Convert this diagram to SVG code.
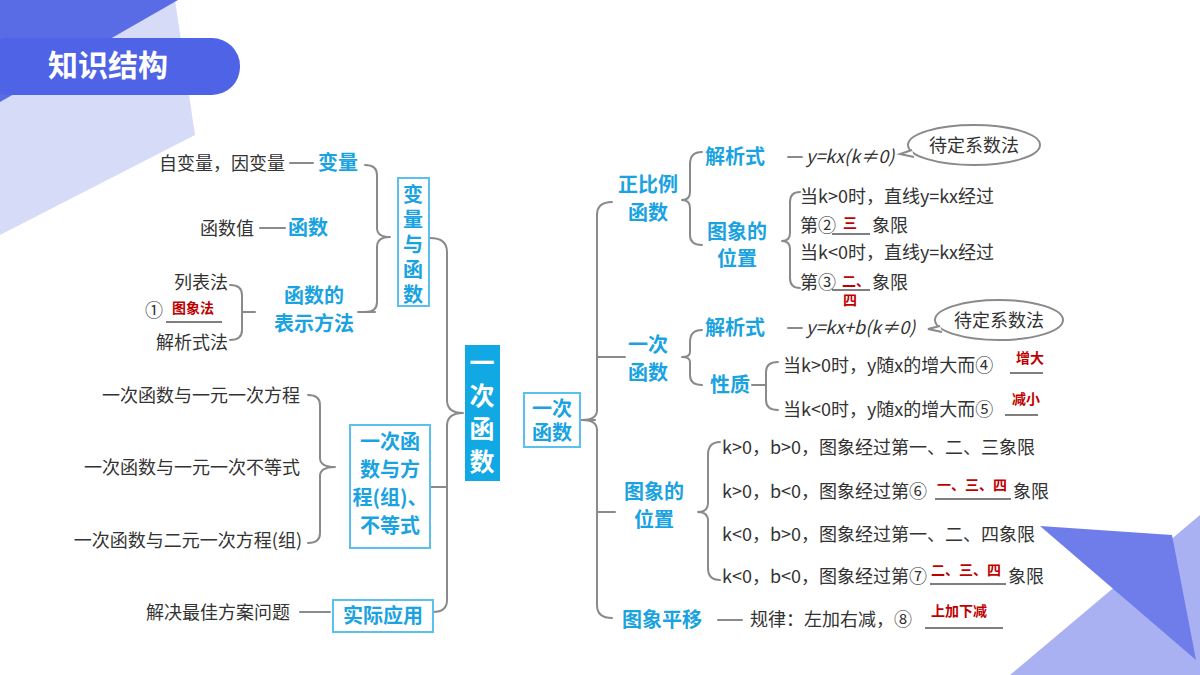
<svg xmlns="http://www.w3.org/2000/svg" width="1200" height="675" viewBox="0 0 1200 675">
<style>
text{font-family:"Noto Sans CJK SC","Noto Sans",sans-serif}
.t{font-size:18px;fill:#333}
.c{font-size:20px;fill:#1aa3e0;font-weight:bold}
.r{font-size:14px;fill:#c00000;font-weight:bold}
.m{font-size:25px;font-weight:bold;fill:#fff;text-anchor:middle}
.ln{fill:none;stroke:#8a8a8a;stroke-width:2;stroke-linecap:round;stroke-linejoin:round}
.ul{stroke:#555;stroke-width:1.3}
.bx{fill:#fff;stroke:#5bc0ee;stroke-width:2}
</style>
<rect width="1200" height="675" fill="#fff"/>
<polygon points="0,100 175,0 195,135 0,235" fill="#d6dbf8"/>
<polygon points="0,0 178,0 0,102" fill="#5a6be6"/>
<rect x="-20" y="38" width="260" height="57" rx="28" fill="#4f63e6"/>
<text x="48" y="76" font-size="30" font-weight="bold" fill="#fff">知识结构</text>
<polygon points="1010,675 1200,515 1200,675" fill="#a9b1f3"/>
<polygon points="1040,526 1172,535 1196,660" fill="#6e7de9"/>

<g id="connectors">
<path class="ln" d="M290,163 H313 M260,228 H285 M358,312 H375"/>
<path class="ln" d="M365,165 Q377,165 377,175 V228 Q377,237 390,237 Q377,237 377,247 V302 Q377,312 365,312"/>
<path class="ln" d="M230,285 Q242,285 242,295 V312 L255,312 L242,312 V330 Q242,340 230,340"/>
<path class="ln" d="M430,238 Q447,238 447,252 V400 Q447,413 463,413 Q447,413 447,426 V600 Q447,612 433,612 M430,487 H447"/>
<path class="ln" d="M308,395 Q320,395 320,405 V458 Q320,467 335,467 Q320,467 320,476 V533 Q320,543 308,543 M300,612 H330"/>
<path class="ln" d="M580,420 H595 M612,202 Q597,202 597,215 V410 Q597,420 582,420 Q597,420 597,430 V605 Q597,618 612,618 M597,357 H625 M597,512 H615"/>
<path class="ln" d="M702,152 Q690,152 690,164 V192 Q690,200 682,200 Q690,200 690,208 V235 Q690,245 702,245"/>
<path class="ln" d="M788,157 H802 M788,328 H802 M718,620 H742"/>
<path class="ln" d="M800,192 Q790,192 790,202 V233 Q790,241 782,241 Q790,241 790,249 V278 Q790,288 800,288"/>
<path class="ln" d="M702,330 Q690,330 690,342 V352 Q690,357 682,357 Q690,357 690,362 V375 Q690,385 702,385"/>
<path class="ln" d="M778,362 Q766,362 766,372 V385 L752,385 L766,385 V400 Q766,410 778,410"/>
<path class="ln" d="M720,442 Q708,442 708,455 V503 Q708,512 698,512 Q708,512 708,521 V568 Q708,580 720,580"/>
<ellipse class="ln" cx="974" cy="145" rx="66" ry="20"/>
<path d="M912,150 L900,154 L914,157" fill="#fff" stroke="#8a8a8a" stroke-width="2"/>
<ellipse class="ln" cx="999" cy="320" rx="64" ry="20"/>
<path d="M940,326 L928,329 L942,332" fill="#fff" stroke="#8a8a8a" stroke-width="2"/>
</g>

<g id="main"><rect x="465" y="345" width="35" height="136" fill="#12a8e4"/>
<text class="m" x="482" y="372">一</text>
<text class="m" x="482" y="405">次</text>
<text class="m" x="482" y="438">函</text>
<text class="m" x="482" y="471">数</text></g>
<g id="main2"><rect class="bx" x="524" y="393" width="56" height="54"/>
<text class="c" x="552" y="416" text-anchor="middle">一次</text><text class="c" x="552" y="440" text-anchor="middle">函数</text></g>

<g id="bl1"><rect class="bx" x="398" y="178" width="31" height="128"/>
<text class="c" x="413" y="202" text-anchor="middle">变</text><text class="c" x="413" y="227" text-anchor="middle">量</text><text class="c" x="413" y="252" text-anchor="middle">与</text><text class="c" x="413" y="277" text-anchor="middle">函</text><text class="c" x="413" y="302" text-anchor="middle">数</text></g>
<g id="bl1a"><text class="t" x="285" y="170" text-anchor="end">自变量，因变量</text><text class="c" x="318" y="170">变量</text></g>
<g id="bl1b"><text class="t" x="254" y="235" text-anchor="end">函数值</text><text class="c" x="288" y="235">函数</text></g>
<g id="bl1c"><text class="c" x="314" y="303" text-anchor="middle">函数的</text><text class="c" x="314" y="331" text-anchor="middle">表示方法</text>
<text class="t" x="228" y="289" text-anchor="end">列表法</text>
<text class="t" x="145" y="317">①</text><text class="r" x="172" y="313">图象法</text><line class="ul" x1="166" y1="322" x2="222" y2="322"/>
<text class="t" x="228" y="349" text-anchor="end">解析式法</text></g>

<g id="bl2"><rect class="bx" x="350" y="425" width="80" height="123"/>
<text class="c" x="390" y="449" text-anchor="middle">一次函</text><text class="c" x="390" y="477" text-anchor="middle">数与方</text><text class="c" x="390" y="505" text-anchor="middle">程(组)、</text><text class="c" x="390" y="533" text-anchor="middle">不等式</text>
<text class="t" x="300" y="402" text-anchor="end">一次函数与一元一次方程</text>
<text class="t" x="300" y="474" text-anchor="end">一次函数与一元一次不等式</text>
<text class="t" x="302" y="547" text-anchor="end">一次函数与二元一次方程(组)</text></g>
<g id="bl3"><rect class="bx" x="333" y="600" width="100" height="32"/>
<text class="c" x="383" y="623" text-anchor="middle">实际应用</text>
<text class="t" x="290" y="619" text-anchor="end">解决最佳方案问题</text></g>

<g id="r1"><text class="c" x="648" y="192" text-anchor="middle">正比例</text><text class="c" x="648" y="220" text-anchor="middle">函数</text>
<text class="c" x="705" y="164">解析式</text><text class="t" x="806" y="163" font-style="italic" font-size="15">y=kx(k≠0)</text>
<text class="t" x="974" y="152" text-anchor="middle">待定系数法</text>
<text class="c" x="737" y="239" text-anchor="middle">图象的</text><text class="c" x="737" y="266" text-anchor="middle">位置</text>
<text class="t" x="800" y="203">当k&gt;0时，直线y=kx经过</text>
<text class="t" x="800" y="232">第②</text><text class="r" x="843" y="228">三</text><line class="ul" x1="832" y1="234" x2="870" y2="234"/><text class="t" x="872" y="232">象限</text>
<text class="t" x="800" y="259">当k&lt;0时，直线y=kx经过</text>
<text class="t" x="800" y="289">第③</text><text class="r" x="842" y="286">二、</text><line class="ul" x1="832" y1="290" x2="870" y2="290"/><text class="t" x="872" y="289">象限</text><text class="r" x="843" y="305">四</text></g>

<g id="r2"><text class="c" x="648" y="352" text-anchor="middle">一次</text><text class="c" x="648" y="380" text-anchor="middle">函数</text>
<text class="c" x="705" y="335">解析式</text><text class="t" x="806" y="334" font-style="italic" font-size="15">y=kx+b(k≠0)</text>
<text class="t" x="999" y="327" text-anchor="middle">待定系数法</text>
<text class="c" x="710" y="392">性质</text>
<text class="t" x="783" y="372">当k&gt;0时，y随x的增大而④</text><text class="r" x="1016" y="363">增大</text><line class="ul" x1="1010" y1="373" x2="1043" y2="373"/>
<text class="t" x="783" y="416">当k&lt;0时，y随x的增大而⑤</text><text class="r" x="1012" y="404">减小</text><line class="ul" x1="1005" y1="415" x2="1038" y2="415"/></g>

<g id="r3"><text class="c" x="654" y="499" text-anchor="middle">图象的</text><text class="c" x="654" y="527" text-anchor="middle">位置</text>
<text class="t" x="722" y="454">k&gt;0，b&gt;0，图象经过第一、二、三象限</text>
<text class="t" x="722" y="498">k&gt;0，b&lt;0，图象经过第⑥</text><text class="r" x="937" y="490">一、三、四</text><line class="ul" x1="935" y1="499" x2="1011" y2="499"/><text class="t" x="1013" y="498">象限</text>
<text class="t" x="722" y="541">k&lt;0，b&gt;0，图象经过第一、二、四象限</text>
<text class="t" x="722" y="583">k&lt;0，b&lt;0，图象经过第⑦</text><text class="r" x="931" y="575">二、三、四</text><line class="ul" x1="930" y1="584" x2="1006" y2="584"/><text class="t" x="1008" y="583">象限</text></g>

<g id="r4"><text class="c" x="622" y="627">图象平移</text>
<text class="t" x="750" y="626">规律：左加右减，⑧</text><text class="r" x="931" y="616">上加下减</text><line class="ul" x1="925" y1="628" x2="1003" y2="628"/></g>
</svg>
